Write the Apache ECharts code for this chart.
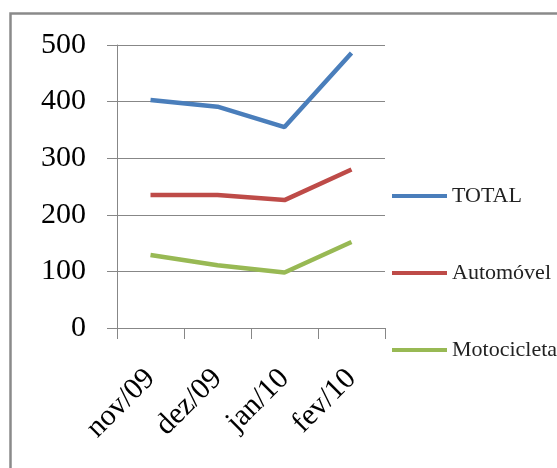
<!DOCTYPE html>
<html>
<head>
<meta charset="utf-8">
<script src="https://cdn.jsdelivr.net/npm/echarts@6/dist/echarts.min.js"></script>
<style>
  html, body { margin: 0; padding: 0; background: #ffffff; }
  #chart { width: 557px; height: 468px; }
</style>
</head>
<body>
<div id="chart"></div>
<script>
// Monthly vehicle counts
const months = ['nov/09', 'dez/09', 'jan/10', 'fev/10'];
const total = [403, 391, 355, 486];
const automovel = [235, 235, 226, 280];
const motocicleta = [129, 111, 98, 152];
const yTicks = [0, 100, 200, 300, 400, 500];

const seriesNames = ['TOTAL', 'Automóvel', 'Motocicleta'];
const seriesColors = ['#4a7ebb', '#be4b48', '#98b954'];
const seriesValues = [total, automovel, motocicleta];

const serif = '"Liberation Serif", "Times New Roman", serif';
const axisGray = '#878787';

const chart = echarts.init(document.getElementById('chart'), null, { renderer: 'canvas' });

chart.setOption({
  animation: false,
  backgroundColor: '#ffffff',
  graphic: [{
    type: 'rect',
    shape: { x: 10.5, y: 13.5, width: 700, height: 700 },
    style: { fill: 'none', stroke: '#8a8a8a', lineWidth: 2.5 },
    silent: true
  }],
  grid: { left: 117, right: 172, top: 45, bottom: 140, containLabel: false },
  legend: {
    orient: 'vertical',
    left: 392,
    top: 185,
    padding: 0,
    itemWidth: 55,
    itemHeight: 4,
    itemGap: 55,
    icon: 'rect',
    textStyle: { fontFamily: serif, fontSize: 22, lineHeight: 21, color: '#222222' },
    data: seriesNames
  },
  xAxis: {
    type: 'category',
    data: months,
    boundaryGap: true,
    axisLine: { lineStyle: { color: axisGray, width: 1 } },
    axisTick: { show: true, length: 11, lineStyle: { color: axisGray } },
    axisLabel: {
      rotate: 45,
      margin: 46,
      fontFamily: serif,
      fontSize: 30,
      color: '#000000'
    },
    splitLine: { show: false }
  },
  yAxis: {
    type: 'value',
    min: yTicks[0],
    max: yTicks[yTicks.length - 1],
    interval: yTicks[1] - yTicks[0],
    axisLine: { show: true, lineStyle: { color: axisGray, width: 1 } },
    axisTick: { show: true, length: 10, lineStyle: { color: axisGray } },
    axisLabel: {
      margin: 31,
      fontFamily: serif,
      fontSize: 30,
      color: '#000000'
    },
    splitLine: { show: true, lineStyle: { color: axisGray, width: 1 } }
  },
  series: seriesNames.map((name, i) => ({
    name: name,
    type: 'line',
    data: seriesValues[i],
    showSymbol: false,
    symbol: 'none',
    lineStyle: { color: seriesColors[i], width: 4.5 },
    itemStyle: { color: seriesColors[i] }
  }))
});
</script>
</body>
</html>
